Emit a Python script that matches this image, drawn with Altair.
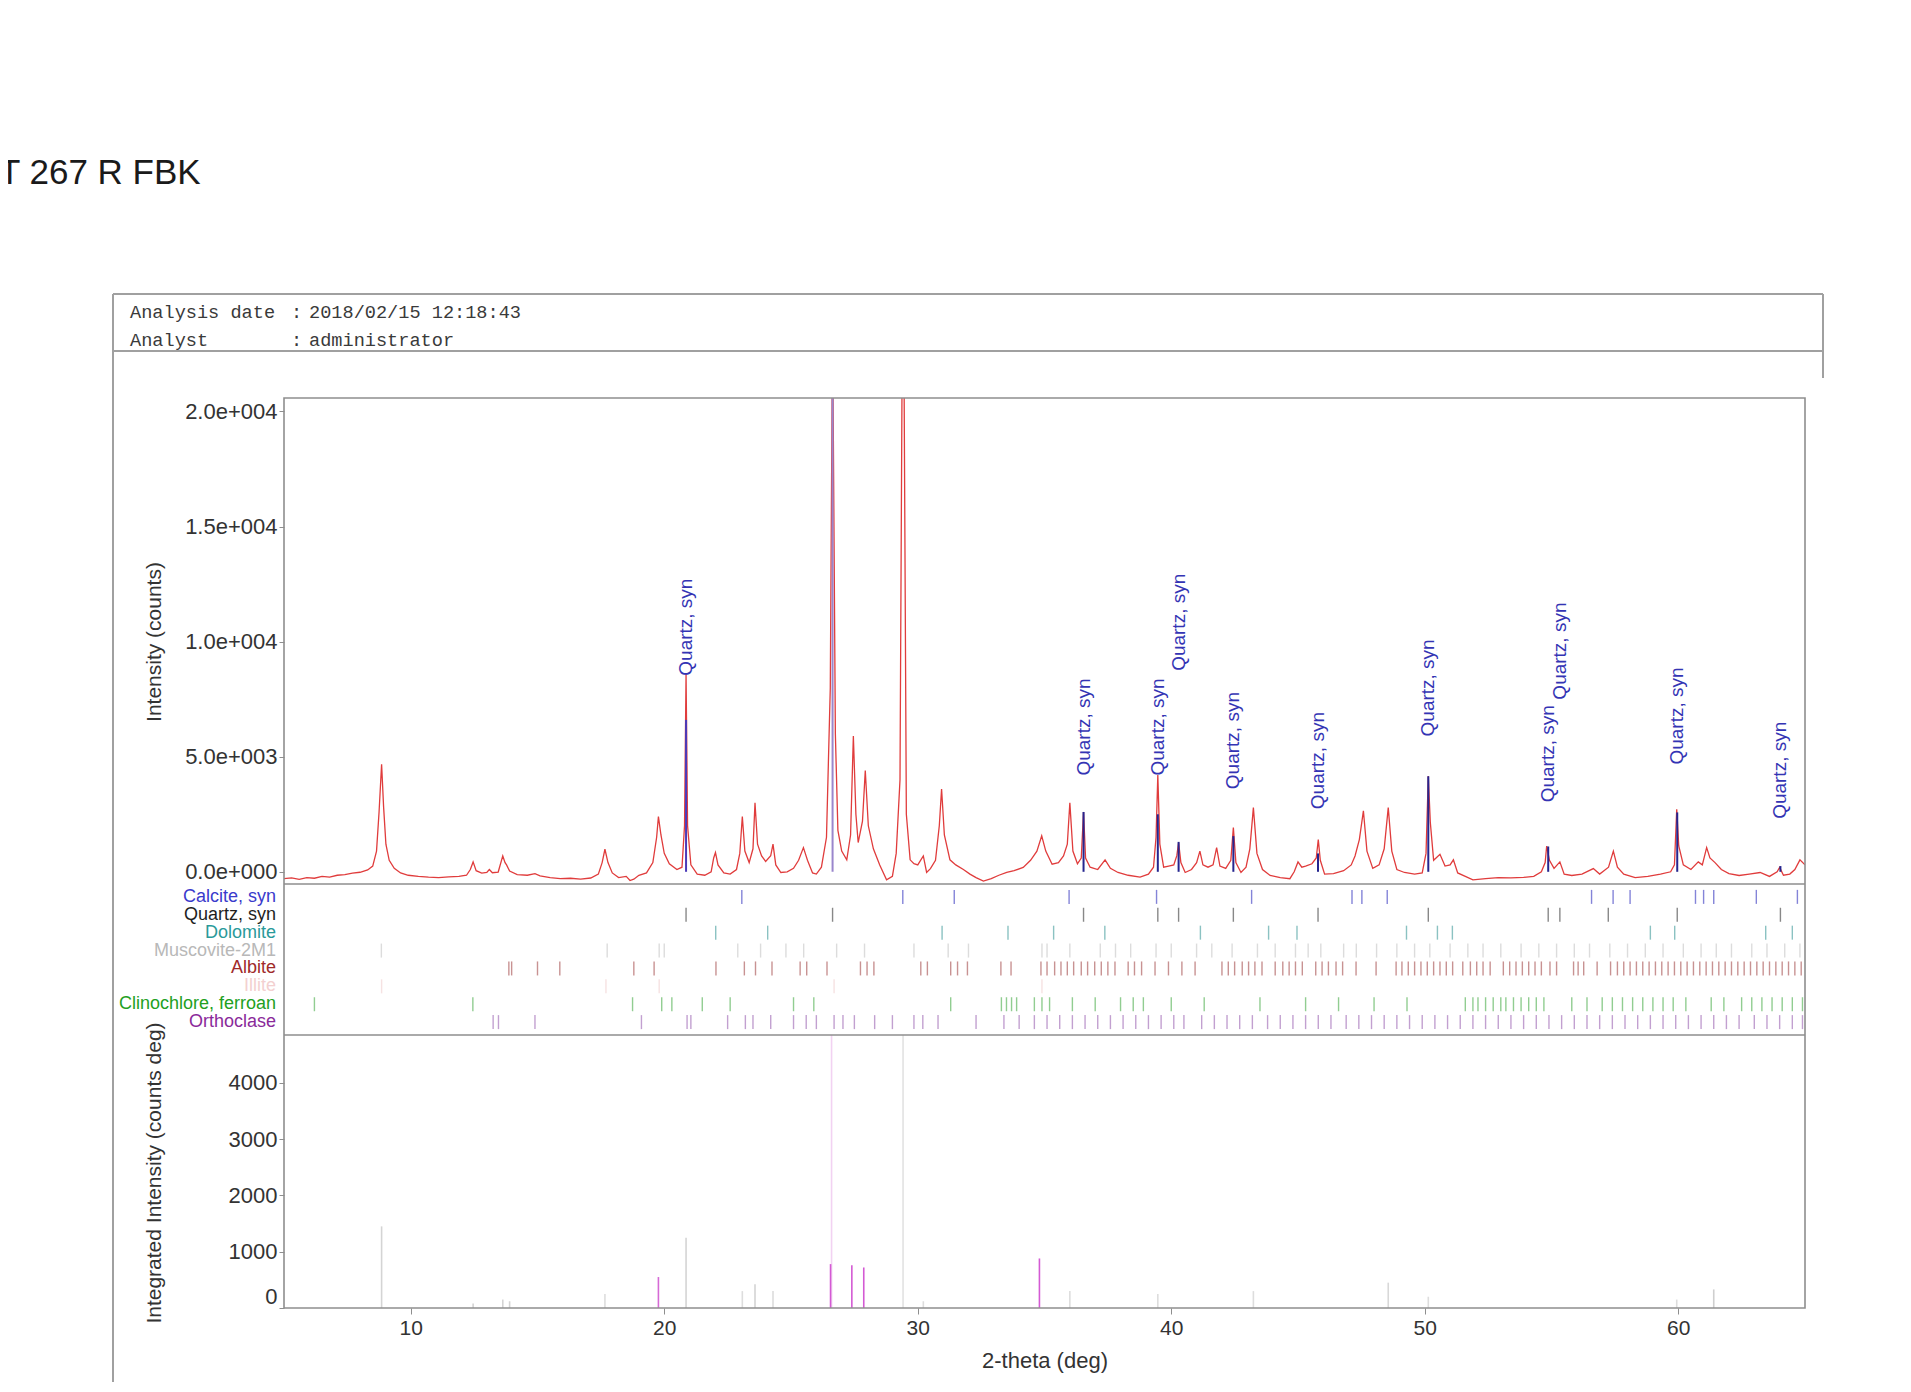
import altair as alt
import pandas as pd

# ---------------- data ----------------
title_text = ["T 267 R FBK"]
header_keys = ["Analysis date", "Analyst"]
header_vals = ["2018/02/15 12:18:43", "administrator"]

two_theta = [
    5.0, 5.3, 5.6, 5.9, 6.2, 6.5, 6.8, 7.1, 7.4, 7.7, 8.0, 8.3, 8.5, 8.65, 8.75, 8.85, 8.93, 9.02, 9.15, 9.35,
    9.6, 9.9, 10.3, 10.7, 11.1, 11.5, 11.9, 12.2, 12.35, 12.46, 12.58, 12.8, 13.0, 13.1, 13.22, 13.45, 13.63,
    13.72, 13.78, 13.9, 14.2, 14.6, 14.9, 15.1, 15.5, 15.9, 16.3, 16.7, 17.1, 17.4, 17.55, 17.66, 17.78, 17.95,
    18.2, 18.5, 18.65, 18.8, 19.0, 19.3, 19.55, 19.7, 19.77, 19.87, 20.0, 20.2, 20.5, 20.7, 20.8, 20.86, 20.92,
    21.05, 21.3, 21.6, 21.85, 21.95, 22.02, 22.12, 22.35, 22.6, 22.85, 22.98, 23.08, 23.18, 23.35, 23.5, 23.58,
    23.68, 23.84, 24.0, 24.2, 24.29, 24.4, 24.6, 24.85, 25.1, 25.3, 25.49, 25.65, 25.85, 26.0, 26.2, 26.4, 26.55,
    26.64, 26.75, 26.85, 27.0, 27.2, 27.35, 27.46, 27.56, 27.65, 27.82, 27.93, 28.05, 28.25, 28.5, 28.77, 29.0,
    29.15, 29.3, 29.42, 29.55, 29.7, 29.85, 30.0, 30.22, 30.35, 30.5, 30.7, 30.85, 30.94, 31.05, 31.27, 31.5,
    31.8, 32.06, 32.3, 32.59, 32.9, 33.2, 33.51, 33.8, 34.16, 34.45, 34.7, 34.89, 35.05, 35.3, 35.55, 35.75,
    35.9, 36.0, 36.12, 36.3, 36.45, 36.54, 36.62, 36.8, 37.1, 37.39, 37.6, 37.9, 38.3, 38.77, 39.1, 39.3, 39.4,
    39.47, 39.55, 39.7, 39.9, 40.1, 40.22, 40.29, 40.38, 40.55, 40.8, 41.0, 41.13, 41.25, 41.45, 41.65, 41.79,
    41.92, 42.15, 42.35, 42.45, 42.55, 42.75, 42.95, 43.1, 43.24, 43.38, 43.6, 43.9, 44.3, 44.68, 44.85, 45.0,
    45.15, 45.3, 45.55, 45.72, 45.8, 45.88, 46.05, 46.4, 46.8, 47.1, 47.25, 47.42, 47.58, 47.72, 47.95, 48.2,
    48.4, 48.56, 48.7, 48.9, 49.2, 49.6, 49.9, 50.05, 50.14, 50.22, 50.35, 50.6, 50.8, 51.0, 51.13, 51.3, 51.6,
    51.9, 52.4, 52.9, 53.4, 53.9, 54.3, 54.6, 54.75, 54.81, 54.92, 55.1, 55.33, 55.5, 55.8, 56.2, 56.65, 56.9,
    57.25, 57.44, 57.6, 57.85, 58.3, 58.8, 59.3, 59.7, 59.85, 59.94, 60.02, 60.2, 60.5, 60.79, 60.95, 61.12,
    61.25, 61.45, 61.7, 62.0, 62.4, 62.8, 63.23, 63.6, 63.9, 64.0, 64.15, 64.4, 64.6, 64.8, 65.0,
]
intensity = [
    -300, -260, -330, -250, -280, -200, -230, -150, -120, -60, -20, 80, 250, 900, 2600, 4670, 2800, 1200, 500, 150,
    -50, -150, -200, -230, -250, -220, -200, -150, 100, 430, 50, -60, -30, 100, -40, -10, 690,
    400, 300, 30, -120, -150, -80, -180, -250, -300, -280, -320, -270, -100, 400, 980, 400, -50,
    -250, -200, -380, -320, -150, -50, 400, 1500, 2400, 1600, 800, 350, 100, 200, 2000, 8600, 2000,
    300, -100, -150, 0, 600, 840, 300, -50, -100, 100, 800, 2400, 900, 400, 1000, 3000,
    1200, 690, 450, 700, 1200, 300, -30, 0, 150, 500, 1050, 500, -50, -100, 200, 1500, 8000,
    24000, 6000, 1800, 900, 520, 1600, 5900, 2500, 1270, 2200, 4400, 2000, 1000, 300, -350, -200,
    800, 4000, 30000, 2500, 520, 350, 300, 690, -30, 140, 500, 2000, 3600, 1600, 520, 300,
    100, -100, -250, -400, -300, -150, -30, 50, 190, 500, 900, 1560, 900, 330, 400, 690,
    1200, 3000, 900, 350, 600, 2600, 600, 200, 100, 520, 150, -30, -150, -230, -100, 200, 1500,
    4200, 1200, 200, 250, 300, 700, 1270, 400, -30, 100, 400, 900, 300, 200, 300, 1050,
    250, 150, 500, 1920, 400, -30, 200, 1000, 2790, 800, 100, -160, -250, -300, 0, 430,
    200, 250, 350, 600, 1400, 500, -100, -80, 50, 300, 690, 1400, 2650, 900, 150, 300,
    1000, 2790, 900, 100, -30, -100, -50, 800, 4160, 2140, 500, 760, 250, 300, 520, -50, -200,
    -350, -300, -250, -260, -240, -200, 0, 400, 1120, 500, 150, 430, -100, -160, -100, 140, -100,
    200, 900, 200, -100, -250, -200, -100, 0, 300, 2720, 1120, 300, 100, 430, 300, 1050,
    600, 400, 100, -80, -160, -100, -30, -200, 0, 190, -150, -100, 100, 520, 300,
]

# reference sticks drawn inside the pattern panel
ref_stick_pos = [20.86, 26.64, 36.54, 39.47, 40.29, 42.45, 45.79, 50.14, 54.87, 59.96, 64.03]
ref_stick_height = [6600, 20586, 2600, 2500, 1300, 1550, 800, 4150, 1100, 2580, 250]
ref_stick_color = ["#4a3ab8", "#9a86cc", "#25258f", "#25258f", "#25258f", "#25258f", "#25258f",
                   "#25258f", "#25258f", "#25258f", "#25258f"]

# peak labels (all "Quartz, syn")
peak_label_pos = [20.86, 36.54, 39.47, 40.29, 42.45, 45.79, 50.14, 54.87, 55.33, 59.96, 64.03]
peak_label_base = [8520, 4180, 4180, 8730, 3590, 2720, 5880, 3020, 7480, 4660, 2300]
peak_label_text = "Quartz, syn"

# phases (stick-pattern rows)
phase_names = ["Calcite, syn", "Quartz, syn", "Dolomite", "Muscovite-2M1", "Albite", "Illite",
               "Clinochlore, ferroan", "Orthoclase"]
phase_label_colors = ["#3a3acc", "#1e1e1e", "#2a9a9a", "#b8b8b8", "#a02a2a", "#f3d0d0", "#22a022", "#8a2a9a"]
phase_stick_colors = ["#5050c8", "#555555", "#5aa8a8", "#cdcdcd", "#b06464", "#f2d6d6", "#62b862", "#a878bc"]

calcite = [23.06, 29.41, 31.44, 35.97, 39.42, 43.17, 47.13, 47.52, 48.52, 56.58, 57.43, 58.1, 60.68, 61.0,
           61.4, 63.08, 64.7]
quartz = [20.86, 26.64, 36.54, 39.47, 40.29, 42.45, 45.79, 50.14, 54.87, 55.33, 57.24, 59.96, 64.03]
dolomite = [22.03, 24.08, 30.96, 33.56, 35.36, 37.38, 41.15, 43.84, 44.96, 49.28, 50.5, 51.09, 58.9, 59.86,
            63.45, 64.5]
muscovite = [8.84, 17.75, 19.8, 20.0, 22.9, 23.8, 24.8, 25.5, 26.8, 27.9, 29.85, 31.2, 32.0, 34.9, 35.1, 36.0,
             37.2, 37.8, 38.4, 39.4, 40.0, 41.0, 41.6, 42.4, 43.4, 44.1, 44.9, 45.4, 45.9, 46.8, 47.3, 48.1,
             48.9, 49.6, 50.2, 51.0, 51.7, 52.3, 53.0, 53.8, 54.5, 55.2, 55.9, 56.5, 57.3, 58.0, 58.7, 59.4,
             60.2, 60.9, 61.5, 62.1, 62.9, 63.5, 64.2, 64.8]
albite = [13.87, 13.98, 15.0, 15.88, 18.8, 19.6, 22.04, 23.16, 23.6, 24.25, 25.36, 25.62, 26.42, 27.74, 28.0,
          28.27, 30.12, 30.38, 31.3, 31.57, 31.96, 33.28, 33.68, 34.86, 35.1, 35.4, 35.65, 35.9, 36.15, 36.45,
          36.7, 36.98, 37.24, 37.5, 37.78, 38.3, 38.55, 38.83, 39.36, 39.89, 40.42, 40.94, 42.0, 42.25, 42.5,
          42.8, 43.05, 43.3, 43.58, 44.1, 44.4, 44.65, 44.9, 45.17, 45.7, 45.95, 46.2, 46.5, 46.76, 47.29,
          48.08, 48.87, 49.1, 49.35, 49.6, 49.85, 50.1, 50.35, 50.6, 50.85, 51.1, 51.5, 51.8, 52.05, 52.3,
          52.58, 53.1, 53.35, 53.6, 53.85, 54.1, 54.35, 54.6, 54.94, 55.2, 55.87, 56.05, 56.27, 56.8, 57.33,
          57.6, 57.85, 58.1, 58.35, 58.6, 58.85, 59.1, 59.35, 59.6, 59.85, 60.1, 60.35, 60.6, 60.85, 61.1,
          61.35, 61.6, 61.85, 62.1, 62.35, 62.6, 62.85, 63.1, 63.35, 63.6, 63.85, 64.1, 64.35, 64.6, 64.85]
illite = [8.85, 17.7, 19.8, 26.7, 34.9]
clinochlore = [6.2, 12.45, 18.75, 19.9, 20.3, 21.5, 22.6, 25.1, 25.9, 31.3, 33.3, 33.5, 33.7, 33.9, 34.6, 34.9,
               35.2, 36.1, 37.0, 38.0, 38.5, 38.9, 40.0, 41.3, 43.5, 45.3, 46.6, 48.0, 49.3, 51.6, 51.9, 52.1,
               52.4, 52.7, 53.0, 53.2, 53.5, 53.8, 54.1, 54.4, 54.7, 55.8, 56.4, 57.0, 57.4, 57.8, 58.2, 58.6,
               59.0, 59.4, 59.8, 60.3, 61.3, 61.8, 62.5, 62.9, 63.3, 63.7, 64.1, 64.5, 64.9]
orthoclase = [13.25, 13.46, 14.9, 19.1, 20.9, 21.05, 22.5, 23.2, 23.5, 24.2, 25.1, 25.6, 26.0, 26.7, 27.05,
              27.5, 28.3, 29.0, 29.85, 30.2, 30.8, 32.3, 33.4, 34.0, 34.6, 35.1, 35.6, 36.1, 36.6, 37.1, 37.6,
              38.1, 38.6, 39.1, 39.6, 40.1, 40.5, 41.2, 41.7, 42.2, 42.7, 43.2, 43.8, 44.3, 44.8, 45.3, 45.8,
              46.3, 46.9, 47.4, 47.9, 48.4, 48.9, 49.4, 49.9, 50.4, 50.9, 51.4, 51.9, 52.4, 52.9, 53.4, 53.9,
              54.4, 54.9, 55.4, 55.9, 56.4, 56.9, 57.4, 57.9, 58.4, 58.9, 59.4, 59.9, 60.4, 60.9, 61.4, 61.9,
              62.4, 63.0, 63.5, 64.0, 64.5, 64.9]
phase_sticks = [calcite, quartz, dolomite, muscovite, albite, illite, clinochlore, orthoclase]

# integrated intensity panel
integ_pos = [8.85, 12.46, 13.63, 13.9, 17.66, 19.77, 20.86, 23.08, 23.58, 24.29, 26.6, 26.56, 27.4, 27.87,
             29.42, 30.22, 34.8, 36.0, 39.47, 43.24, 48.56, 50.14, 59.94, 61.4]
integ_val = [1450, 80, 150, 120, 250, 550, 1250, 300, 420, 300, 4850, 780, 760, 720,
             4850, 120, 880, 300, 250, 300, 450, 200, 150, 330]
integ_color = ["#d4d4d4", "#d4d4d4", "#d4d4d4", "#d4d4d4", "#dddddd", "#d66ad6", "#d4d4d4", "#dddddd",
               "#d4d4d4", "#dddddd", "#f2d2f2", "#d45ad4", "#d45ad4", "#d45ad4",
               "#e2e2e2", "#dddddd", "#d45ad4", "#dddddd", "#dddddd", "#dddddd", "#d8d8d8", "#dddddd",
               "#dddddd", "#cfcfcf"]

# ---------------- layout helpers ----------------
W, H = 1521, 910
MAIN_BOTTOM, PHASE_BOTTOM = 486, 637
FONT = "Liberation Sans"
GREY = "#8e8e8e"

xscale = alt.Scale(domain=[5, 65], nice=False, zero=False)
xaxis = alt.Axis(values=[10, 20, 30, 40, 50, 60], title="2-theta (deg)", grid=False, domain=False,
                 tickColor=GREY, tickSize=6, labelPadding=3, labelFontSize=21, titleFontSize=22,
                 titlePadding=12, labelColor="#333", titleColor="#333", titleFontWeight="normal")


def X(field):
    return alt.X(field, type="quantitative", scale=xscale, axis=xaxis)


main_scale = alt.Scale(domain=[-530, 20586], range=[MAIN_BOTTOM, 0], nice=False, zero=False)
main_axis = alt.Axis(values=[0, 5000, 10000, 15000, 20000], orient="left", grid=False, domain=False,
                     tickColor=GREY, tickSize=5, labelPadding=2, labelFontSize=22, labelColor="#333",
                     title=None,
                     labelExpr="datum.value == 0 ? '0.0e+000' : datum.value == 5000 ? '5.0e+003' : "
                               "datum.value == 10000 ? '1.0e+004' : datum.value == 15000 ? '1.5e+004' : '2.0e+004'")
phase_scale = alt.Scale(domain=[-0.72, 7.72], range=[MAIN_BOTTOM, PHASE_BOTTOM], nice=False, zero=False)
integ_scale = alt.Scale(domain=[0, 4850], range=[H, PHASE_BOTTOM], nice=False, zero=False)
integ_axis = alt.Axis(values=[0, 1000, 2000, 3000, 4000], orient="left", grid=False, domain=False,
                      tickColor=GREY, tickSize=5, labelPadding=2, labelFontSize=22, labelColor="#333",
                      title=None, labelFlush=True, format="d")


def YM(field):
    return alt.Y(field, type="quantitative", scale=main_scale, axis=main_axis)


def YP(field):
    return alt.Y(field, type="quantitative", scale=phase_scale, axis=None)


def YI(field):
    return alt.Y(field, type="quantitative", scale=integ_scale, axis=integ_axis)


one = pd.DataFrame({"k": [0]})

# ---------------- main pattern panel ----------------
spec_df = pd.DataFrame({"tt": two_theta, "I": intensity})
line = alt.Chart(spec_df).mark_line(color="#e03c3c", strokeWidth=1.3, clip=True).encode(
    x=X("tt"), y=YM("I"))

ref_df = pd.DataFrame({"tt": ref_stick_pos, "I": ref_stick_height, "z": [0] * len(ref_stick_pos),
                       "c": ref_stick_color})
ref_rules = alt.Chart(ref_df).mark_rule(strokeWidth=2, clip=True).encode(
    x=X("tt"), y=YM("I"), y2="z", color=alt.Color("c:N", scale=None))

lab_df = pd.DataFrame({"tt": peak_label_pos, "I": peak_label_base,
                       "t": [peak_label_text] * len(peak_label_pos)})
peak_labels = alt.Chart(lab_df).mark_text(angle=270, align="left", baseline="middle", font=FONT,
                                          fontSize=19, color="#3434b4").encode(
    x=X("tt"), y=YM("I"), text="t:N")

main_group = alt.layer(line, ref_rules, peak_labels)

# ---------------- phase stick panel ----------------
rows = []
for i, (name, lst) in enumerate(zip(phase_names, phase_sticks)):
    for p in lst:
        rows.append({"tt": p, "row": i, "c": phase_stick_colors[i]})
stick_df = pd.DataFrame(rows)
sticks = alt.Chart(stick_df).mark_tick(orient="vertical", size=14, thickness=1.4).encode(
    x=X("tt"), y=YP("row"), color=alt.Color("c:N", scale=None))

plabel_df = pd.DataFrame({"name": phase_names, "row": list(range(len(phase_names))),
                          "c": phase_label_colors})
plabels = alt.Chart(plabel_df).mark_text(align="right", baseline="middle", font=FONT, fontSize=18).encode(
    x=alt.value(-8), y=YP("row"), text="name:N", color=alt.Color("c:N", scale=None))

phase_group = alt.layer(sticks, plabels)

# ---------------- integrated intensity panel ----------------
integ_df = pd.DataFrame({"tt": integ_pos, "v": integ_val, "z": [0] * len(integ_pos), "c": integ_color})
integ = alt.Chart(integ_df).mark_rule(strokeWidth=1.6).encode(
    x=X("tt"), y=YI("v"), y2="z", color=alt.Color("c:N", scale=None))

# ---------------- frames, header, titles ----------------
frame = alt.Chart(one).mark_rect(fillOpacity=0, stroke=GREY, strokeWidth=1.6).encode(
    x=alt.value(0), x2=alt.value(W), y=alt.value(0), y2=alt.value(H))
sep1 = alt.Chart(one).mark_rule(color=GREY, strokeWidth=1.6).encode(
    x=alt.value(0), x2=alt.value(W), y=alt.value(MAIN_BOTTOM))
sep2 = alt.Chart(one).mark_rule(color=GREY, strokeWidth=1.6).encode(
    x=alt.value(0), x2=alt.value(W), y=alt.value(PHASE_BOTTOM))

box_top = alt.Chart(one).mark_rule(color="#a0a0a0", strokeWidth=2).encode(
    x=alt.value(-171), x2=alt.value(1539), y=alt.value(-104))
box_div = alt.Chart(one).mark_rule(color="#a0a0a0", strokeWidth=2).encode(
    x=alt.value(-171), x2=alt.value(1539), y=alt.value(-47))
box_left = alt.Chart(one).mark_rule(color="#a0a0a0", strokeWidth=2).encode(
    x=alt.value(-171), y=alt.value(-104), y2=alt.value(1000))
box_right = alt.Chart(one).mark_rule(color="#a0a0a0", strokeWidth=2).encode(
    x=alt.value(1539), y=alt.value(-104), y2=alt.value(-20))

title = alt.Chart(pd.DataFrame({"t": title_text})).mark_text(
    align="left", baseline="alphabetic", font=FONT, fontSize=35, color="#1a1a1a").encode(
    x=alt.value(-285), y=alt.value(-214), text="t:N")

hdr_df = pd.DataFrame({"k": header_keys, "v": header_vals, "y": [-86, -58]})
MONO = "Liberation Mono"
hdr_y = alt.Y("y:Q", scale=alt.Scale(domain=[-86, -58], range=[-86, -58]), axis=None)
hdr_keys = alt.Chart(hdr_df).mark_text(align="left", baseline="middle", font=MONO, fontSize=18.6,
                                       color="#3a3a3a").encode(x=alt.value(-154), y=hdr_y, text="k:N")
hdr_colon = alt.Chart(hdr_df).mark_text(align="left", baseline="middle", font=MONO, fontSize=18.6,
                                        color="#3a3a3a", text=":").encode(x=alt.value(7), y=hdr_y)
hdr_vals = alt.Chart(hdr_df).mark_text(align="left", baseline="middle", font=MONO, fontSize=18.6,
                                       color="#3a3a3a").encode(x=alt.value(25), y=hdr_y, text="v:N")
header_group = alt.layer(hdr_keys, hdr_colon, hdr_vals)

ytitle1 = alt.Chart(pd.DataFrame({"t": ["Intensity (counts)"]})).mark_text(
    angle=270, align="center", baseline="middle", font=FONT, fontSize=21, color="#333").encode(
    x=alt.value(-129), y=alt.value(244), text="t:N")
ytitle2 = alt.Chart(pd.DataFrame({"t": ["Integrated Intensity (counts deg)"]})).mark_text(
    angle=270, align="center", baseline="middle", font=FONT, fontSize=21, color="#333").encode(
    x=alt.value(-129), y=alt.value(775), text="t:N")

chart = alt.layer(
    integ, phase_group, main_group, header_group,
    frame, sep1, sep2, box_top, box_div, box_left, box_right, title, ytitle1, ytitle2,
).resolve_scale(y="independent").resolve_axis(y="independent").properties(
    width=W, height=H, autosize="none",
    padding={"left": 276, "top": 390, "right": 90, "bottom": 74},
    background="white",
).configure_view(strokeWidth=0).configure_axis(labelFont=FONT, titleFont=FONT)

chart.save("out.html", embed_options={"renderer": "svg", "actions": False})
